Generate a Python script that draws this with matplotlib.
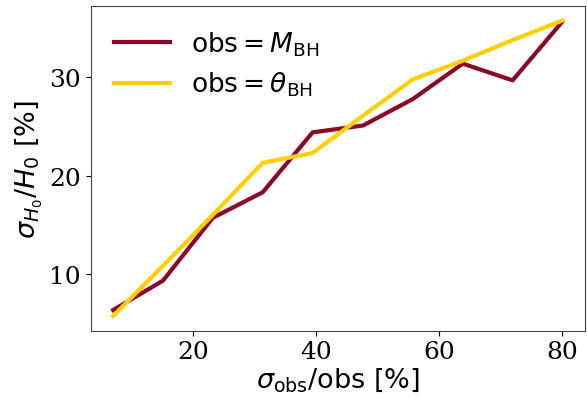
import matplotlib
matplotlib.use("Agg")
import matplotlib.pyplot as plt
import numpy as np

# データ
sigma_obs = [7.0, 15.1, 23.2, 31.3, 39.4, 47.6, 55.7, 63.8, 71.9, 80.0]
h0_mbh = [6.3, 9.3, 15.7, 18.3, 24.4, 25.1, 27.8, 31.4, 29.7, 35.7]
h0_theta = [5.7, 10.8, 16.0, 21.3, 22.3, 26.1, 29.8, 31.7, 33.8, 35.8]

labels = [r"$\mathrm{obs} = M_{\rm BH}$", r"$\mathrm{obs} = \theta_{\rm BH}$"]
colors = ["#8c0725", "#ffd000"]

plt.rcParams["font.family"] = "DejaVu Serif"
plt.rcParams["mathtext.fontset"] = "dejavusans"

fig = plt.figure(figsize=(5.87, 4.06), dpi=100)
ax = fig.add_axes([0.1545, 0.183, 0.842, 0.8005])

ax.plot(sigma_obs, h0_mbh, color=colors[0], lw=3, label=labels[0])
ax.plot(sigma_obs, h0_theta, color=colors[1], lw=3, label=labels[1])

ax.set_xticks([20, 40, 60, 80])
ax.set_yticks([10, 20, 30])
ax.tick_params(labelsize=18)
ax.set_xlabel(r"$\sigma_{\rm obs}/{\rm obs}\ [\%]$", fontsize=19.5, labelpad=1)
ax.set_ylabel(r"$\sigma_{H_0}/H_0\ [\%]$", fontsize=19.5, labelpad=3)
ax.legend(loc="upper left", frameon=False, fontsize=19, handlelength=2.1,
          labelspacing=0.45)

for s in ax.spines.values():
    s.set_color("#444444")

fig.savefig("out.png", dpi=100)
